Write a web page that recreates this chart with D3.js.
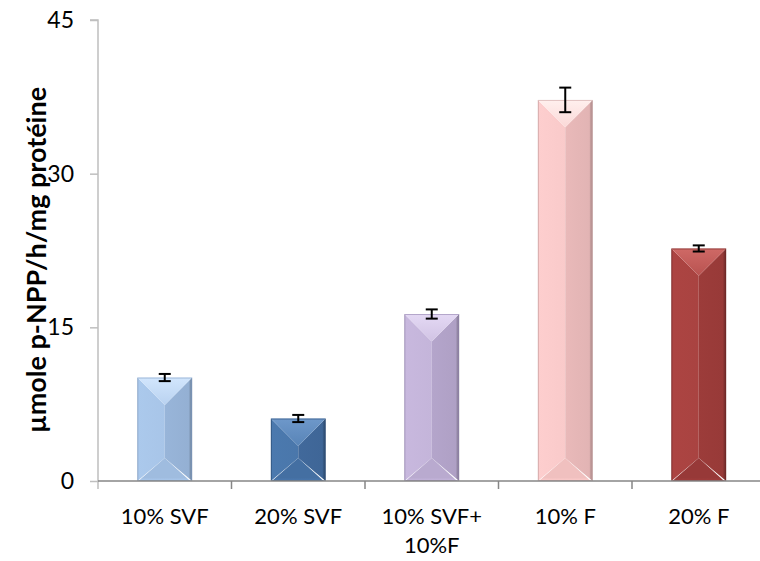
<!DOCTYPE html>
<html>
<head>
<meta charset="utf-8">
<script src="https://cdn.jsdelivr.net/npm/d3@7"></script>
<style>
  html, body { margin: 0; padding: 0; background: #fff; }
  svg text { font-family: Lato, "Noto Sans", sans-serif; fill: #000; }
</style>
</head>
<body>
<svg id="chart" width="760" height="561"></svg>
<script>
// Phosphatase activity by treatment
const categories = ["10% SVF", "20% SVF", "10% SVF+\n10%F", "10% F", "20% F"];
const values = [10.1, 6.1, 16.3, 37.2, 22.7];
const errors = [0.35, 0.35, 0.45, 1.2, 0.3];
const yTicks = [0, 15, 30, 45];
const yTitle = "µmole p-NPP/h/mg protéine";

// bevel shades per bar: top facet, left facet, right facet, bottom facet, outline
const palette = [
  { top: "#d2e6fd", left: "#a8c5e8", right: "#98b5d9", bottom: "#9fbcdf", edge: "#7f9cc2" },
  { top: "#6e98ca", left: "#4a77ab", right: "#41699b", bottom: "#446fa2", edge: "#2b4c77" },
  { top: "#e4d9f4", left: "#c4b5da", right: "#b4a5cb", bottom: "#b9aacf", edge: "#9383ad" },
  { top: "#fff0ee", left: "#f9caca", right: "#e9b9b9", bottom: "#f0c0bf", edge: "#cba2a2" },
  { top: "#cf6966", left: "#a94341", right: "#9c3c3a", bottom: "#973938", edge: "#6e2624" }
];

const svg = d3.select("#chart");
const margin = { left: 98, top: 20, bottom: 80 };
const W = 760, H = 561;
const x = d3.scaleBand().domain(categories).range([margin.left, 765.5]).paddingInner(0.59).paddingOuter(0.295);
const y = d3.scaleLinear().domain([0, 45]).range([H - margin.bottom, margin.top]);

const defs = svg.append("defs");
palette.forEach((p, i) => {
  const gl = defs.append("linearGradient").attr("id", "gl" + i).attr("x1", 0).attr("x2", 1).attr("y1", 0).attr("y2", 0);
  gl.append("stop").attr("offset", 0).attr("stop-color", d3.color(p.left).darker(0.3));
  gl.append("stop").attr("offset", 0.04).attr("stop-color", d3.color(p.left).brighter(0.05));
  gl.append("stop").attr("offset", 1).attr("stop-color", p.left);
  const gr = defs.append("linearGradient").attr("id", "gr" + i).attr("x1", 0).attr("x2", 1).attr("y1", 0).attr("y2", 0);
  gr.append("stop").attr("offset", 0).attr("stop-color", p.right);
  gr.append("stop").attr("offset", 0.88).attr("stop-color", d3.color(p.right).darker(0.08));
  gr.append("stop").attr("offset", 0.93).attr("stop-color", d3.color(p.right).darker(0.55));
  gr.append("stop").attr("offset", 1).attr("stop-color", d3.color(p.right).darker(0.9));
  const gt = defs.append("linearGradient").attr("id", "gt" + i).attr("x1", 0).attr("x2", 0).attr("y1", 0).attr("y2", 1);
  gt.append("stop").attr("offset", 0).attr("stop-color", p.top);
  gt.append("stop").attr("offset", 1).attr("stop-color", d3.interpolateRgb(p.top, p.left)(0.6));
  const gb = defs.append("linearGradient").attr("id", "gb" + i).attr("x1", 0).attr("x2", 0).attr("y1", 0).attr("y2", 1);
  gb.append("stop").attr("offset", 0).attr("stop-color", p.bottom);
  gb.append("stop").attr("offset", 0.85).attr("stop-color", p.bottom);
  gb.append("stop").attr("offset", 1).attr("stop-color", d3.color(p.bottom).brighter(0.2));
});

// y axis
const yAxis = d3.axisLeft(y).tickValues(yTicks).tickSize(8).tickPadding(16);
const gy = svg.append("g").attr("transform", `translate(${margin.left},0)`).call(yAxis);
gy.select(".domain").attr("stroke", "#bfbfbf").attr("stroke-width", 1.5)
  .attr("d", `M-8,${y(45)}H0V${y(0) + 8}`);
gy.selectAll(".tick line").attr("stroke", "#bfbfbf").attr("stroke-width", 1.5);
gy.selectAll(".tick text").style("font-size", "23px").attr("fill", "#000");

// bars with bevelled facets
const bars = svg.append("g").selectAll("g").data(values).join("g");
bars.each(function (v, i) {
  const g = d3.select(this);
  const x0 = x(categories[i]), w = x.bandwidth(), x1 = x0 + w, cx = x0 + w / 2;
  const t = y(v), b = y(0);
  const d = Math.min(w / 2, (b - t) / 2);
  const db = Math.min(w * 0.42, (b - t) / 2);
  const pts = a => a.map(p => p.join(",")).join(" ");
  g.append("polygon").attr("points", pts([[x0, t], [cx, t + d], [cx, b - db], [x0, b]])).attr("fill", `url(#gl${i})`);
  g.append("polygon").attr("points", pts([[x1, t], [cx, t + d], [cx, b - db], [x1, b]])).attr("fill", `url(#gr${i})`);
  g.append("polygon").attr("points", pts([[x0 + 1, b], [cx, b - db], [x1 - 2, b]])).attr("fill", `url(#gb${i})`);
  g.append("polygon").attr("points", pts([[x0, t], [x1, t], [cx, t + d]])).attr("fill", `url(#gt${i})`);
  g.append("rect").attr("x", x0 + 0.5).attr("y", t + 0.5).attr("width", w - 1).attr("height", b - t - 1)
    .attr("fill", "none").attr("stroke", palette[i].edge).attr("stroke-width", 1).attr("stroke-opacity", 0.6);
});

// error bars
const eb = svg.append("g").attr("stroke", "#000").attr("stroke-width", 2);
values.forEach((v, i) => {
  const cx = x(categories[i]) + x.bandwidth() / 2;
  const lo = y(v - errors[i]), hi = y(v + errors[i]);
  eb.append("line").attr("x1", cx).attr("x2", cx).attr("y1", lo).attr("y2", hi);
  eb.append("line").attr("x1", cx - 6).attr("x2", cx + 6).attr("y1", lo).attr("y2", lo);
  eb.append("line").attr("x1", cx - 6).attr("x2", cx + 6).attr("y1", hi).attr("y2", hi);
});

// x axis
const xAxis = d3.axisBottom(x).tickSize(0).tickFormat("");
const gx = svg.append("g").attr("transform", `translate(0,${y(0)})`).call(xAxis);
gx.select(".domain").attr("stroke", "#868686").attr("stroke-width", 1.5).attr("d", `M${margin.left},0H${W}`);
const bounds = categories.map(c => x(c) - x.step() * x.paddingInner() / 2);
gx.selectAll(".bound").data(bounds.slice(1)).join("line")
  .attr("x1", d => d).attr("x2", d => d).attr("y1", 0).attr("y2", 8)
  .attr("stroke", "#868686").attr("stroke-width", 1.5);

svg.append("g").selectAll("text").data(categories).join("text")
  .attr("x", d => x(d) + x.bandwidth() / 2)
  .attr("y", y(0) + 43)
  .attr("text-anchor", "middle")
  .style("font-size", "22px")
  .each(function (d) {
    const lines = d.split("\n");
    d3.select(this).selectAll("tspan").data(lines).join("tspan")
      .attr("x", x(d) + x.bandwidth() / 2)
      .attr("dy", (l, k) => k === 0 ? 0 : 29)
      .text(l => l);
  });

// y axis title
svg.append("text")
  .attr("transform", `translate(46,${260}) rotate(-90)`)
  .attr("text-anchor", "middle")
  .style("font-size", "27px").style("font-weight", "bold")
  .text(yTitle);
</script>
</body>
</html>
